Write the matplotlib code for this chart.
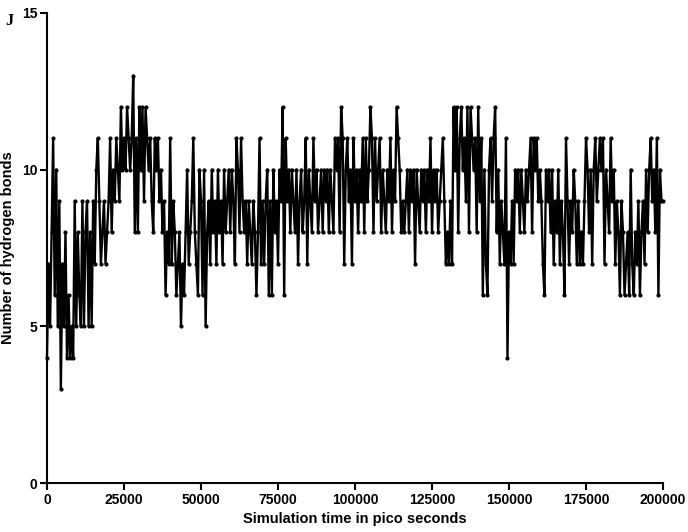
import numpy as np
import matplotlib
matplotlib.use("Agg")
import matplotlib.pyplot as plt

# hydrogen bond count, one value every 500 ps
hbonds = [
    4, 7, 5, 8, 11, 6, 10, 5, 9, 3, 7, 5, 8, 4, 6, 4, 5, 4, 9, 5,
    8, 6, 5, 9, 5, 8, 9, 5, 8, 5, 9, 7, 10, 11, 9, 7, 8, 9, 7, 8,
    9, 11, 8, 10, 9, 11, 10, 9, 12, 10, 11, 10, 12, 11, 10, 11, 13, 8, 11, 8,
    12, 10, 12, 9, 12, 11, 10, 11, 9, 8, 11, 10, 11, 9, 10, 8, 9, 6, 8, 7,
    11, 7, 9, 8, 6, 7, 8, 5, 7, 6, 8, 10, 7, 8, 9, 11, 8, 7, 6, 10,
    9, 6, 10, 5, 8, 9, 7, 10, 8, 9, 7, 10, 8, 9, 7, 10, 8, 9, 10, 8,
    10, 9, 7, 11, 10, 8, 11, 9, 8, 9, 7, 9, 8, 7, 9, 8, 6, 8, 11, 7,
    9, 7, 9, 10, 6, 9, 6, 10, 8, 9, 7, 10, 9, 12, 6, 11, 9, 10, 8, 10,
    9, 8, 10, 7, 9, 10, 8, 9, 11, 7, 10, 9, 8, 11, 9, 10, 8, 9, 10, 8,
    10, 9, 10, 8, 10, 9, 8, 11, 10, 11, 8, 12, 11, 7, 10, 11, 9, 10, 7, 11,
    9, 10, 8, 10, 9, 11, 8, 11, 9, 10, 12, 11, 8, 11, 9, 10, 11, 8, 10, 9,
    8, 10, 9, 11, 8, 10, 9, 12, 11, 10, 8, 9, 8, 9, 10, 8, 10, 9, 10, 7,
    10, 9, 8, 10, 9, 10, 8, 10, 9, 11, 8, 10, 9, 10, 8, 9, 10, 11, 9, 7,
    8, 7, 9, 7, 12, 10, 12, 8, 11, 12, 10, 11, 9, 12, 8, 12, 11, 10, 11, 8,
    12, 9, 11, 6, 10, 7, 6, 10, 11, 9, 11, 12, 8, 10, 7, 9, 8, 7, 11, 4,
    8, 7, 9, 7, 10, 9, 10, 8, 10, 9, 8, 10, 9, 10, 11, 8, 11, 10, 11, 9,
    10, 9, 7, 6, 10, 9, 10, 8, 10, 7, 9, 8, 10, 7, 9, 8, 6, 11, 9, 7,
    9, 8, 10, 9, 7, 9, 7, 8, 7, 9, 11, 10, 8, 10, 7, 10, 11, 9, 10, 11,
    10, 11, 7, 10, 9, 8, 11, 9, 10, 7, 9, 8, 6, 9, 8, 6, 7, 8, 6, 10,
    7, 6, 8, 7, 9, 6, 8, 9, 7, 10, 8, 10, 11, 9, 10, 8, 11, 6, 10, 9,
    9,
]
time_ps = np.arange(len(hbonds)) * 500

x_ticks = [0, 25000, 50000, 75000, 100000, 125000, 150000, 175000, 200000]
y_ticks = [0, 5, 10, 15]

plt.rcParams['font.family'] = ['Liberation Sans', 'DejaVu Sans']
plt.rcParams['font.weight'] = 'bold'

fig = plt.figure(figsize=(6.88, 5.32), dpi=100)
ax = fig.add_axes([0.0683, 0.0921, 0.8954, 0.8835])

ax.plot(time_ps, hbonds, color='black', lw=1.7, marker='o', ms=3.0,
        markeredgewidth=0, clip_on=False)

ax.set_xlim(0, 200000)
ax.set_ylim(0, 15)
ax.set_xticks(x_ticks)
ax.set_xticklabels([str(t) for t in x_ticks])
ax.set_yticks(y_ticks)

for s in ['top', 'right']:
    ax.spines[s].set_visible(False)
for s in ['left', 'bottom']:
    ax.spines[s].set_linewidth(1.5)
ax.tick_params(direction='out', length=5, width=1.5, labelsize=10, pad=2)
for lab in ax.get_xticklabels() + ax.get_yticklabels():
    lab.set_fontweight('bold')

ax.set_xlabel('Simulation time in pico seconds', fontsize=10.5, fontweight='bold', labelpad=4)
ax.set_ylabel('Number of hydrogen bonds', fontsize=10.5, fontweight='bold', labelpad=5)

fig.text(0.008, 0.975, 'J', fontsize=12, fontweight='bold',
         family=['Liberation Serif', 'DejaVu Serif'], va='top')

fig.savefig('out.png', dpi=100)
